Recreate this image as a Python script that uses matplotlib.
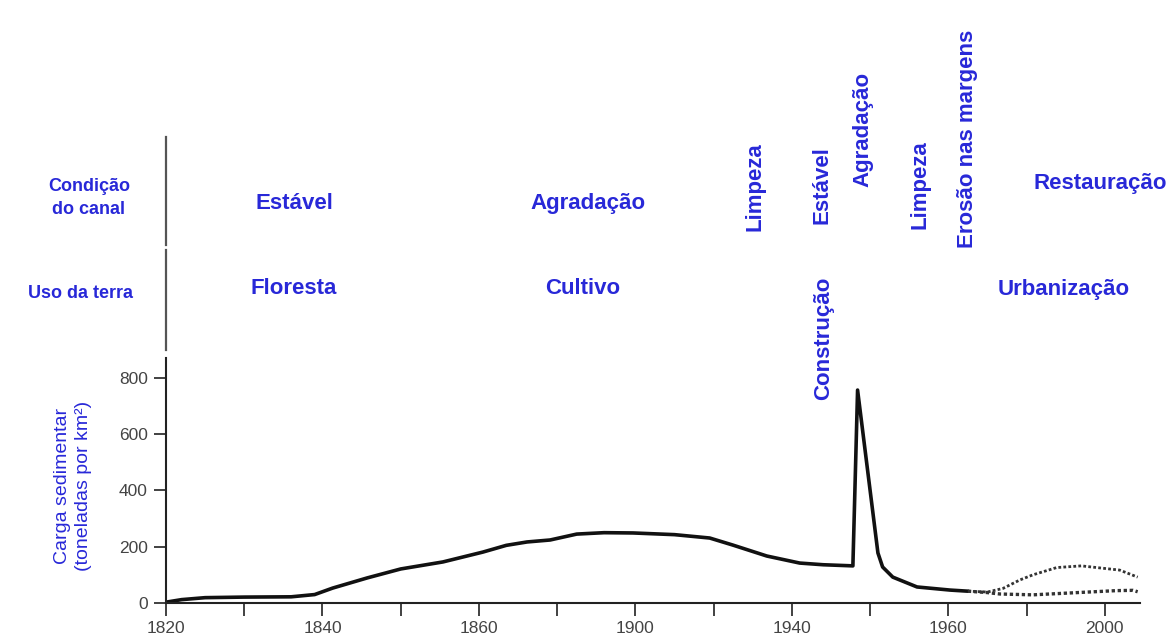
import numpy as np
import matplotlib
matplotlib.use('Agg')
import matplotlib.pyplot as plt
from matplotlib.lines import Line2D

# ---------------- data ----------------
tick_years = [1820, 1840, 1860, 1900, 1940, 1960, 2000]
tick_labels = ['1820', '1840', '1860', '1900', '1940', '1960', '2000']
minor_years = [1830, 1850, 1880, 1920, 1950, 1980]
y_ticks = [0, 200, 400, 600, 800]
y_tick_labels = ['0', '200', '400', '600', '800']

main_years = [1820, 1822, 1825, 1830, 1836, 1839, 1841.3, 1845.7, 1850, 1855.4,
              1861, 1867, 1872.3, 1878.2, 1885, 1892, 1899.4, 1910, 1919, 1924.9,
              1933.6, 1941, 1944, 1947.8, 1948.4, 1951.0, 1951.6, 1952.9, 1956.0,
              1960.4, 1965]
main_load = [3, 12, 19, 21, 22, 30, 53, 89, 121, 146,
             181, 205, 217, 224, 245, 250, 249, 243, 231, 206,
             167, 142, 136, 132, 757, 178, 128, 92, 57,
             46, 42]

upper_years = [1965, 1970, 1974, 1978.3, 1981.6, 1987.7, 1994, 2003.8, 2008.4]
upper_load = [42, 39, 52, 82, 100, 126, 132, 117, 92]

lower_years = [1965, 1970, 1973.2, 1981.6, 1994.4, 2003, 2007.2, 2008.4]
lower_load = [42, 37, 32, 29, 38, 44, 45, 40]

channel_labels = ['Estável', 'Agradação', 'Restauração']
land_labels = ['Floresta', 'Cultivo', 'Urbanização']
vertical_labels = ['Limpeza', 'Estável', 'Agradação', 'Construção', 'Limpeza', 'Erosão nas margens']

# ---------------- figure ----------------
W, H = 1174, 639
fig = plt.figure(figsize=(W / 100, H / 100), dpi=100)
fig.patch.set_facecolor('white')

FONT = ['Liberation Sans', 'DejaVu Sans']
BLUE = '#2828d8'
plt.rcParams['font.family'] = FONT


def fx(px):
    return px / W


def fy(py):
    return 1 - py / H


ax = fig.add_axes([fx(166), fy(603), (1140 - 166) / W, (603 - 358) / H])

# piecewise time scale taken from the tick labels
pos = np.arange(len(tick_years) + 1, dtype=float)
yrs = np.array(tick_years + [2040], dtype=float)


def forward(x):
    return np.interp(x, yrs, pos, left=-1e9, right=1e9) if False else np.interp(x, yrs, pos)


def inverse(p):
    return np.interp(p, pos, yrs)


ax.set_xscale('function', functions=(forward, inverse))

ax.plot(main_years, main_load, color='#111111', lw=2.6, solid_joinstyle='round',
        solid_capstyle='round')
ax.plot(upper_years, upper_load, color='#333333', lw=2.0, linestyle=(0, (1, 0.8)))
ax.plot(lower_years, lower_load, color='#333333', lw=2.4, linestyle=(0, (1, 0.8)))

ax.set_xlim(1820, 2009)
ax.set_ylim(0, 871)

for s in ['top', 'right']:
    ax.spines[s].set_visible(False)
for s in ['left', 'bottom']:
    ax.spines[s].set_linewidth(1.5)
    ax.spines[s].set_color('#222222')

ax.set_xticks(tick_years)
ax.set_xticklabels(tick_labels)
ax.set_xticks(minor_years, minor=True)
ax.set_yticks(y_ticks)
ax.set_yticklabels(y_tick_labels)
ax.tick_params(axis='both', which='both', direction='out', length=9, width=1.3,
               color='#333333', labelcolor='#444444', labelsize=12.5)
ax.tick_params(axis='x', which='both', pad=4)
ax.tick_params(axis='y', pad=4)

# y label
fig.text(fx(73), fy(486), 'Carga sedimentar\n(toneladas por km²)', rotation=90,
         ha='center', va='center', color=BLUE, fontsize=14, linespacing=1.35,
         multialignment='center')

# header separator lines
fig.add_artist(Line2D([fx(166), fx(166)], [fy(137), fy(245)], transform=fig.transFigure,
                      color='#555555', lw=1.6))
fig.add_artist(Line2D([fx(166), fx(166)], [fy(250), fy(350)], transform=fig.transFigure,
                      color='#555555', lw=1.6))

# header row titles
fig.text(fx(89), fy(198), 'Condição\ndo canal', ha='center', va='center', color=BLUE,
         fontsize=13, fontweight='bold', linespacing=1.45)
fig.text(fx(80), fy(293), 'Uso da terra', ha='center', va='center', color=BLUE,
         fontsize=13, fontweight='bold')

# channel condition labels
for lbl, (x, y) in zip(channel_labels, [(294, 204), (588, 204), (1100, 184)]):
    fig.text(fx(x), fy(y), lbl, ha='center', va='center', color=BLUE,
             fontsize=16, fontweight='bold')

# land use labels
for lbl, (x, y) in zip(land_labels, [(294, 289), (583, 289), (1064, 290)]):
    fig.text(fx(x), fy(y), lbl, ha='center', va='center', color=BLUE,
             fontsize=16, fontweight='bold')

# vertical labels
for lbl, (x, y) in zip(vertical_labels, [(755, 187), (822, 185), (863, 129), (824, 338),
                                          (920, 185), (967, 139)]):
    fig.text(fx(x), fy(y), lbl, ha='center', va='center', rotation=90, color=BLUE,
             fontsize=16, fontweight='bold')

fig.savefig('out.png', dpi=100, facecolor='white')
